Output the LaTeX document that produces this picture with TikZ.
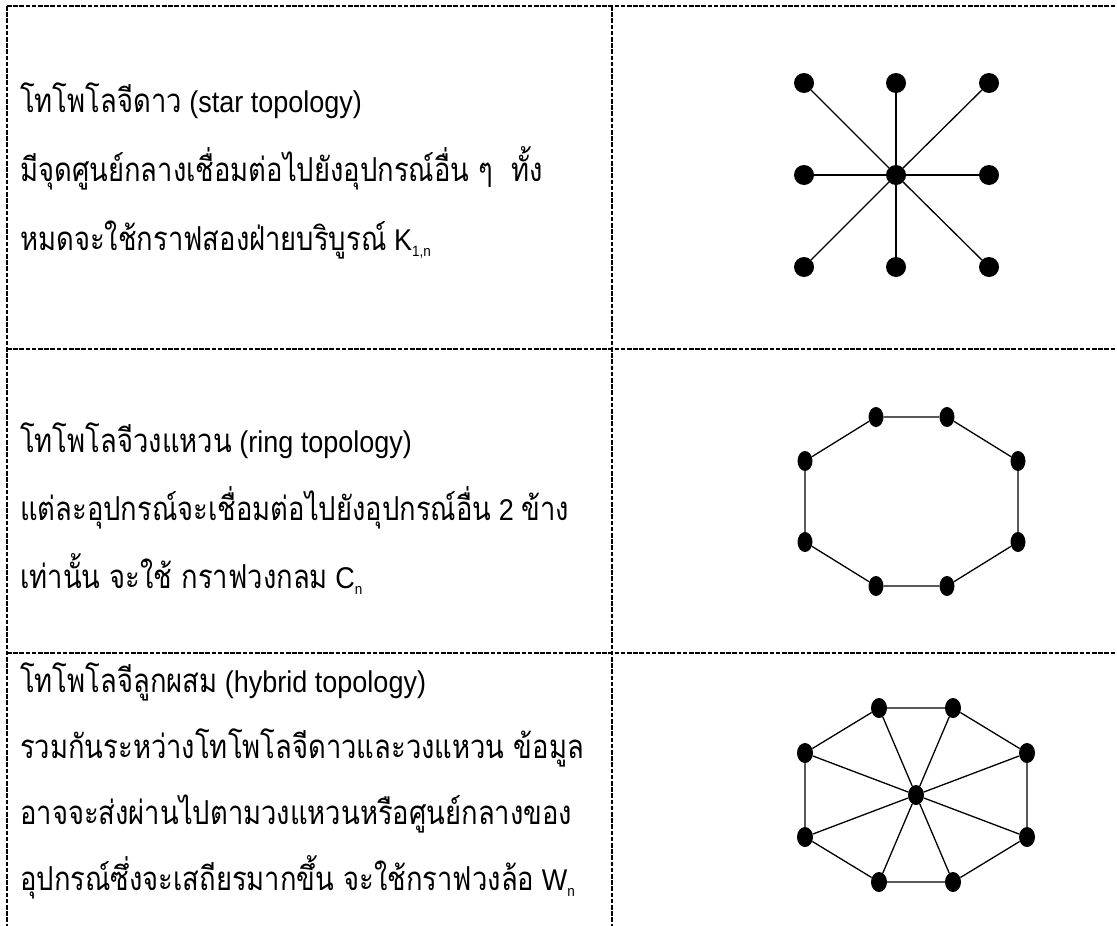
\documentclass[tikz,border=0pt]{standalone}
\usepackage{fontspec}
\setmainfont[FakeStretch=0.9]{Liberation Sans}
\newfontfamily\thaifont[Script=Thai,FakeStretch=0.83,Scale=1.1]{Loma}
\usetikzlibrary{shapes.geometric}
\newcommand\thx[1]{{\thaifont #1}}
\newcommand\subx[1]{\raisebox{-6pt}{\fontsize{15}{15}\selectfont #1}}
\tikzset{
  border/.style={line width=1.3pt, dash pattern=on 4.5pt off 1.7pt},
  txt/.style={anchor=base west, inner sep=0pt, font=\fontsize{30}{30}\selectfont},
  dotc/.style={circle, fill=black, inner sep=0pt, minimum size=20pt},
  dote/.style={ellipse, fill=black, inner sep=0pt, minimum width=15pt, minimum height=20pt},
  doth/.style={ellipse, fill=black, inner sep=0pt, minimum width=16pt, minimum height=20pt},
  edge/.style={line width=1.3pt}
}
\begin{document}
\begin{tikzpicture}[x=1pt,y=-1pt]
\useasboundingbox (0,0) rectangle (1117,926);
% table borders
\coordinate (tl) at (7,6);
\coordinate (tr) at (1117,6);
\coordinate (bl) at (7,926);
\coordinate (mt) at (612,6);
\coordinate (mb) at (612,926);
\coordinate (l2) at (7,349);
\coordinate (r2) at (1117,349);
\coordinate (l3) at (7,653);
\coordinate (r3) at (1117,653);
\draw[border] (tl) -- (tr);
\draw[border] (tl) -- (bl);
\draw[border] (mt) -- (mb);
\draw[border] (l2) -- (r2);
\draw[border] (l3) -- (r3);
% star text
\node[txt] (s1) at (20,112) {\thx{โทโพโลจีดาว} (star topology)};
\node[txt] (s2) at (20,181) {\thx{มีจุดศูนย์กลางเชื่อมต่อไปยังอุปกรณ์อื่น ๆ\ \ ทั้ง}};
\node[txt] (s3) at (20,250) {\thx{หมดจะใช้กราฟสองฝ่ายบริบูรณ์} K\subx{1,n}};
% ring text
\node[txt] (r1) at (20,452) {\thx{โทโพโลจีวงแหวน} (ring topology)};
\node[txt] (r2t) at (20,520) {\thx{แต่ละอุปกรณ์จะเชื่อมต่อไปยังอุปกรณ์อื่น} 2 \thx{ข้าง}};
\node[txt] (r3t) at (20,588) {\thx{เท่านั้น จะใช้ กราฟวงกลม} C\subx{n}};
% hybrid text
\node[txt] (h1) at (20,692) {\thx{โทโพโลจีลูกผสม} (hybrid topology)};
\node[txt] (h2) at (20,758) {\thx{รวมกันระหว่างโทโพโลจีดาวและวงแหวน ข้อมูล}};
\node[txt] (h3) at (20,824) {\thx{อาจจะส่งผ่านไปตามวงแหวนหรือศูนย์กลางของ}};
\node[txt] (h4) at (20,890) {\thx{อุปกรณ์ซึ่งจะเสถียรมากขึ้น จะใช้กราฟวงล้อ} W\subx{n}};
% star graph
\node[dotc] (sc) at (896,175) {};
\node[dotc] (sa1) at (804,83) {};
\node[dotc] (sa2) at (896,83) {};
\node[dotc] (sa3) at (989,83) {};
\node[dotc] (sa4) at (804,175) {};
\node[dotc] (sa5) at (989,175) {};
\node[dotc] (sa6) at (804,267) {};
\node[dotc] (sa7) at (896,267) {};
\node[dotc] (sa8) at (989,267) {};
\foreach \i in {1,...,8} \draw[edge] (sc) -- (sa\i);
% ring graph
\node[dote] (c1) at (876,417) {};
\node[dote] (c2) at (947,417) {};
\node[dote] (c3) at (1018,461) {};
\node[dote] (c4) at (1018,542) {};
\node[dote] (c5) at (947,586) {};
\node[dote] (c6) at (876,586) {};
\node[dote] (c7) at (805,542) {};
\node[dote] (c8) at (805,461) {};
\draw[edge] (c1) -- (c2) -- (c3) -- (c4) -- (c5) -- (c6) -- (c7) -- (c8) -- (c1);
% hybrid (wheel) graph
\node[doth] (wc) at (916,795) {};
\node[doth] (w1) at (879,708) {};
\node[doth] (w2) at (953,708) {};
\node[doth] (w3) at (1027,753) {};
\node[doth] (w4) at (1027,837) {};
\node[doth] (w5) at (953,882) {};
\node[doth] (w6) at (879,882) {};
\node[doth] (w7) at (805,837) {};
\node[doth] (w8) at (805,753) {};
\draw[edge] (w1) -- (w2) -- (w3) -- (w4) -- (w5) -- (w6) -- (w7) -- (w8) -- (w1);
\foreach \i in {1,...,8} \draw[edge] (wc) -- (w\i);
\end{tikzpicture}
\end{document}
